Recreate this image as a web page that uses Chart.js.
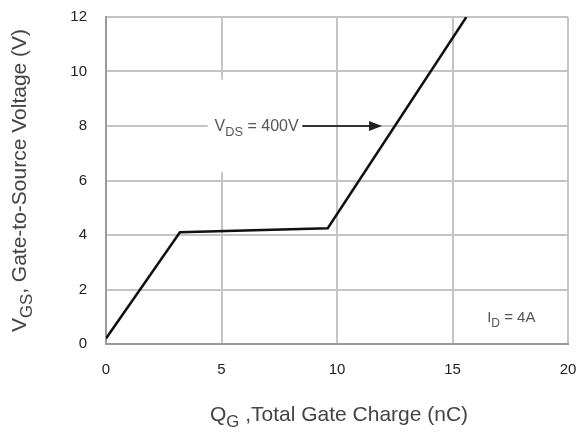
<!DOCTYPE html>
<html><head><meta charset="utf-8">
<script src="https://cdn.jsdelivr.net/npm/chart.js@4"></script>
<style>html,body{margin:0;padding:0;background:#fff}canvas{display:block}</style>
</head><body>
<canvas id="c" width="577" height="438"></canvas>
<script>
// Data
const chargeNC = [0, 3.2, 9.6, 15.6];
const vgsV = [0.2, 4.1, 4.25, 12];
const xTicks = [0, 5, 10, 15, 20];
const yTicks = [0, 2, 4, 6, 8, 10, 12];
const xTitleParts = [["Q", false], ["G", true], [" ,Total Gate Charge (nC)", false]];
const yTitleParts = [["V", false], ["GS", true], [", Gate-to-Source Voltage (V)", false]];
const vdsParts = [["V", false], ["DS", true], [" = 400V", false]];
const idParts = [["I", false], ["D", true], [" = 4A", false]];

const FONT = '"Liberation Sans", Arial, sans-serif';

function partsWidth(ctx, parts, size) {
  let w = 0;
  for (const [t, sub] of parts) {
    ctx.font = (sub ? size * 0.8 : size) + 'px ' + FONT;
    w += ctx.measureText(t).width;
  }
  return w;
}
function drawParts(ctx, parts, x, y, size, color) {
  ctx.fillStyle = color;
  ctx.textBaseline = 'alphabetic';
  ctx.textAlign = 'left';
  for (const [t, sub] of parts) {
    ctx.font = (sub ? size * 0.8 : size) + 'px ' + FONT;
    ctx.fillText(t, x, sub ? y + size * 0.3 : y);
    x += ctx.measureText(t).width;
  }
}

const annot = {
  id: 'annot',
  beforeDatasetsDraw(chart) {
    const ctx = chart.ctx, xs = chart.scales.x, ys = chart.scales.y;
    ctx.save();
    ctx.fillStyle = '#fff';
    // gap behind the VDS label on the 8 V grid line
    ctx.fillRect(xs.getPixelForValue(4.4), ys.getPixelForValue(8) - 3, xs.getPixelForValue(8.5) - xs.getPixelForValue(4.4), 6);
    // gap in the 5 nC grid line
    ctx.fillRect(xs.getPixelForValue(5) - 3, ys.getPixelForValue(9.7), 6, ys.getPixelForValue(6.3) - ys.getPixelForValue(9.7));
    ctx.restore();
  },
  afterDatasetsDraw(chart) {
    const ctx = chart.ctx, xs = chart.scales.x, ys = chart.scales.y;
    ctx.save();
    // VDS label and arrow
    const y8 = ys.getPixelForValue(8);
    drawParts(ctx, vdsParts, xs.getPixelForValue(4.7), y8 + 5, 16, '#555');
    const ax0 = xs.getPixelForValue(8.5), ax1 = xs.getPixelForValue(11.95);
    ctx.strokeStyle = '#333';
    ctx.lineWidth = 2;
    ctx.beginPath(); ctx.moveTo(ax0, y8); ctx.lineTo(ax1 - 10, y8); ctx.stroke();
    ctx.fillStyle = '#222';
    ctx.beginPath(); ctx.moveTo(ax1, y8); ctx.lineTo(ax1 - 13, y8 - 5); ctx.lineTo(ax1 - 13, y8 + 5); ctx.closePath(); ctx.fill();
    // ID label
    drawParts(ctx, idParts, xs.getPixelForValue(16.5), ys.getPixelForValue(0.95) + 4, 15, '#555');
    // axis titles
    const ca = chart.chartArea;
    const xw = partsWidth(ctx, xTitleParts, 21);
    drawParts(ctx, xTitleParts, (ca.left + ca.right) / 2 - xw / 2 + 2, 421, 21, '#444');
    ctx.translate(26, (ca.top + ca.bottom) / 2);
    ctx.rotate(-Math.PI / 2);
    const yw = partsWidth(ctx, yTitleParts, 21);
    drawParts(ctx, yTitleParts, -yw / 2, 0, 21, '#444');
    ctx.restore();
  }
};

new Chart(document.getElementById('c'), {
  type: 'line',
  data: {
    datasets: [{
      data: chargeNC.map((x, i) => ({ x, y: vgsV[i] })),
      borderColor: '#111',
      borderWidth: 2.5,
      pointRadius: 0,
      tension: 0,
      fill: false
    }]
  },
  options: {
    responsive: false,
    animation: false,
    layout: { padding: { left: 0, right: 9, top: 17, bottom: 0 } },
    plugins: { legend: { display: false }, tooltip: { enabled: false } },
    scales: {
      x: {
        type: 'linear', min: 0, max: 20,
        afterBuildTicks: s => { s.ticks = xTicks.map(v => ({ value: v })); },
        afterFit: s => { s.height = 94; s.paddingLeft = 0; s.paddingRight = 0; },
        grid: { color: '#c4c4c4', lineWidth: 2, drawTicks: false },
        border: { color: '#9a9a9a', width: 2 },
        ticks: { padding: 17, color: '#222', font: { family: FONT, size: 15 } }
      },
      y: {
        type: 'linear', min: 0, max: 12,
        afterBuildTicks: s => { s.ticks = yTicks.map(v => ({ value: v })); },
        afterFit: s => { s.width = 106; s.paddingTop = 0; s.paddingBottom = 0; },
        grid: { color: '#c4c4c4', lineWidth: 2, drawTicks: false },
        border: { color: '#9a9a9a', width: 2 },
        ticks: { padding: 19, color: '#222', font: { family: FONT, size: 15 } }
      }
    }
  },
  plugins: [annot]
});
</script>
</body></html>
